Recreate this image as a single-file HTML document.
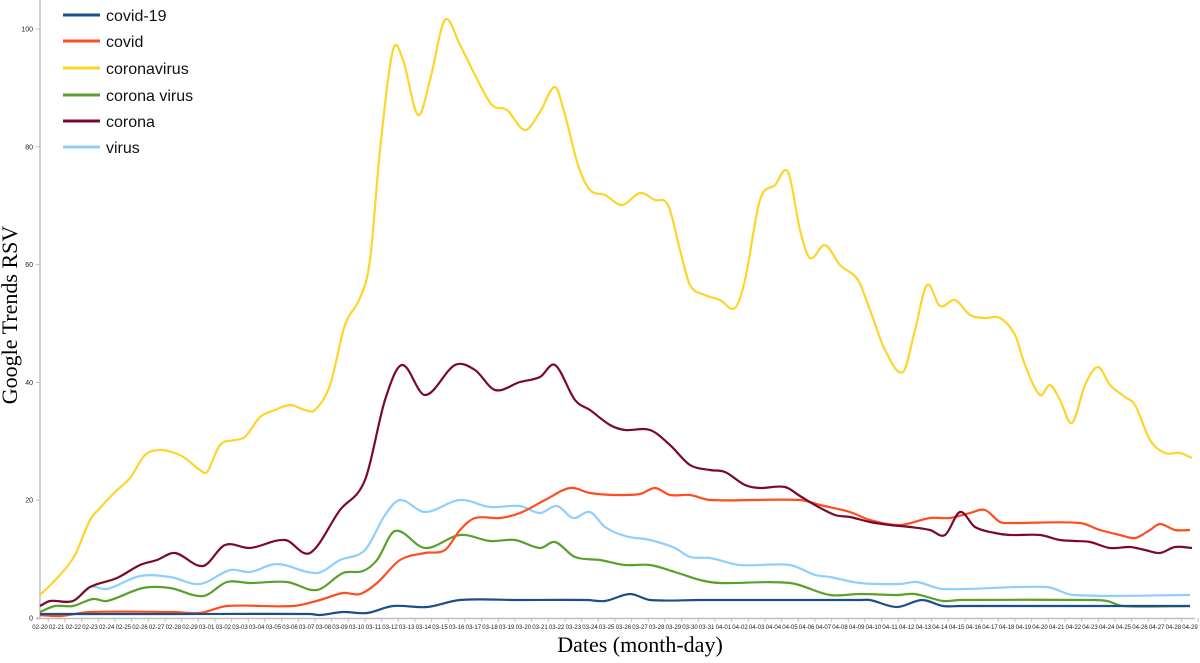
<!DOCTYPE html>
<html><head><meta charset="utf-8"><style>
body{margin:0;background:#fff;width:1200px;height:663px;overflow:hidden}
svg{display:block}
</style></head><body>
<svg id="s" width="1200" height="663" xmlns="http://www.w3.org/2000/svg" font-family="Liberation Sans, sans-serif">
<g stroke="#c0c0c0" stroke-width="1.5" fill="none">
<line x1="40" y1="0" x2="40" y2="619"/>
<line x1="36" y1="618.5" x2="1195" y2="618.5"/>
</g>
<g id="yt" font-size="7" fill="#222" text-anchor="end"></g>
<g id="xt" font-size="6.5" fill="#222" text-anchor="middle"></g>
<g id="lines" fill="none" stroke-width="2.2" stroke-linejoin="round"></g>
<text x="17" y="315" font-family="Liberation Serif, serif" font-size="22" text-anchor="middle" transform="rotate(-90 17 315)">Google Trends RSV</text>
<text x="640" y="652" font-family="Liberation Serif, serif" font-size="22" text-anchor="middle">Dates (month-day)</text>
<g font-size="16" fill="#111">
<line x1="63" y1="15" x2="100" y2="15" stroke="#1a4f8a" stroke-width="3"/><text x="106" y="21">covid-19</text>
<line x1="63" y1="41" x2="100" y2="41" stroke="#ff4d1f" stroke-width="3"/><text x="106" y="47">covid</text>
<line x1="63" y1="68" x2="100" y2="68" stroke="#ffd42a" stroke-width="3"/><text x="106" y="74">coronavirus</text>
<line x1="63" y1="95" x2="100" y2="95" stroke="#5aa02c" stroke-width="3"/><text x="106" y="101">corona virus</text>
<line x1="63" y1="121" x2="100" y2="121" stroke="#7b0a2a" stroke-width="3"/><text x="106" y="127">corona</text>
<line x1="63" y1="147" x2="100" y2="147" stroke="#8fcfff" stroke-width="3"/><text x="106" y="153">virus</text>
</g>
</svg>
<script>
var NS="http://www.w3.org/2000/svg";
function el(t,a,p,txt){var e=document.createElementNS(NS,t);for(var k in a)e.setAttribute(k,a[k]);if(txt!=null)e.textContent=txt;p.appendChild(e);return e;}
var yt=document.getElementById('yt');
for(var v=0;v<=100;v+=20){var y=618-v*5.89;el('text',{x:33,y:y+2.5},yt,String(v));el('line',{x1:36,x2:40,y1:y,y2:y,stroke:'#c0c0c0'},yt);}
var xt=document.getElementById('xt');
var i=0;
function lab(m,d){var x=40+i*16.667;el('text',{x:x,y:629,textLength:15.5,lengthAdjust:'spacingAndGlyphs'},xt,m+'-'+(d<10?'0'+d:d));el('line',{x1:x+8.3,x2:x+8.3,y1:618,y2:622,stroke:'#c0c0c0'},xt);i++;}
for(var d=20;d<=29;d++)lab('02',d);for(d=1;d<=31;d++)lab('03',d);for(d=1;d<=29;d++)lab('04',d);
function path(p){var n=p.length/2,X=[],Y=[],m=[];for(var k=0;k<n;k++){X.push(p[2*k]);Y.push(p[2*k+1]);}
for(k=0;k<n;k++){var a=Math.max(k-1,0),b=Math.min(k+1,n-1);m.push((Y[b]-Y[a])/(X[b]-X[a]));}
var d='M'+X[0]+','+Y[0];
for(k=0;k<n-1;k++){var h=(X[k+1]-X[k])/3;d+=' C'+(X[k]+h)+','+(Y[k]+m[k]*h)+' '+(X[k+1]-h)+','+(Y[k+1]-m[k+1]*h)+' '+X[k+1]+','+Y[k+1];}return d;}
var S=[
['#ffd42a',[40,595,60,575,75,555,90,520,100,508,115,492,130,478,145,455,160,450,175,453,185,458,200,470,207,472,220,445,235,440,245,437,260,417,275,410,290,405,305,410,315,410,330,385,345,325,360,298,370,260,380,150,393,50,403,60,418,115,430,80,445,20,460,45,475,75,492,105,507,110,525,130,540,112,555,87,565,115,578,165,590,190,605,195,622,205,640,193,655,200,668,205,680,250,690,285,705,295,720,300,735,308,745,280,760,200,775,185,788,172,800,230,810,258,825,245,840,265,858,280,870,310,885,350,903,372,915,330,927,285,940,306,955,300,970,315,985,318,1000,318,1015,335,1025,365,1040,395,1050,385,1060,400,1072,423,1085,385,1098,367,1110,385,1125,397,1135,405,1150,440,1165,453,1180,453,1192,458]],
['#8fcfff',[40,606,50,601,73,601,90,587,107,589,140,576,170,577,200,584,230,570,250,572,277,564,317,573,340,560,365,550,385,515,400,500,425,512,460,500,490,507,520,506,540,513,557,506,573,518,590,512,605,527,625,536,650,540,675,548,690,557,710,558,740,565,790,565,815,575,830,577,860,583,900,584,917,582,943,589,1047,587,1073,595,1190,595]],
['#5aa02c',[40,612,55,606,73,606,93,599,107,601,143,588,170,588,203,596,227,582,250,583,287,582,317,590,343,573,363,571,377,560,395,531,425,548,460,535,490,541,515,540,540,548,555,542,575,557,600,560,625,565,650,565,675,572,700,580,720,583,790,583,830,595,860,594,897,595,915,594,943,601,960,600,1093,600,1107,601,1123,606,1190,606]],
['#ff4d1f',[40,615,60,616,90,612,173,612,200,613,227,606,293,606,320,600,343,593,360,594,377,583,400,560,425,553,445,550,460,530,475,518,500,518,520,513,545,500,570,488,590,493,615,495,640,494,655,488,670,495,690,495,710,500,800,500,820,505,850,512,870,520,900,525,930,518,950,518,970,513,985,510,1000,522,1010,523,1080,523,1100,530,1120,535,1135,538,1150,530,1160,524,1175,530,1190,530]],
['#7b0a2a',[40,606,50,601,73,601,90,587,117,578,140,565,157,560,175,553,203,566,225,545,250,548,285,540,310,553,340,510,365,480,385,400,402,365,425,395,455,365,475,370,495,390,520,382,540,377,555,365,575,400,590,410,610,425,625,430,650,430,670,445,690,465,710,470,725,472,745,485,760,488,785,487,800,496,815,505,835,515,850,517,870,522,890,525,910,527,930,530,945,535,960,512,975,527,995,533,1010,535,1040,535,1060,540,1075,541,1090,542,1110,548,1130,547,1145,550,1160,553,1175,547,1192,548]],
['#1a4f8a',[40,614,180,614,310,614,320,615,343,612,367,613,393,606,427,607,460,600,520,600,587,600,605,601,630,594,650,600,700,600,780,600,860,600,870,600,897,607,922,600,943,606,960,606,1060,606,1190,606]]
];
var g=document.getElementById('lines');
S.forEach(function(s){el('path',{d:path(s[1]),stroke:s[0]},g);});
</script>
</body></html>
